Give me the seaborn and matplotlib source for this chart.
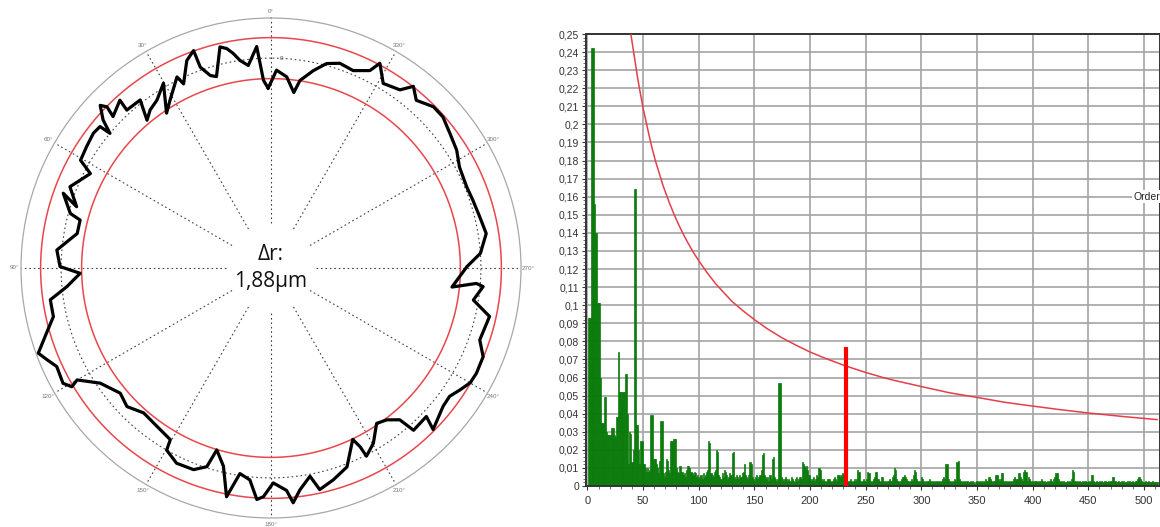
import numpy as np
import matplotlib
matplotlib.use("Agg")
import matplotlib.pyplot as plt
import matplotlib.transforms as mtransforms
from matplotlib.ticker import FuncFormatter, MultipleLocator
import seaborn as sns

# ---------------- data: roundness profile (left) ----------------
profile_angle_deg = [0.9, 2.3, 3.7, 6.4, 8.5, 10.0, 11.4, 13.0, 15.9, 17.5, 19.4, 19.6, 22.1, 25.4,
                     26.2, 31.0, 34.0, 30.2, 34.2, 37.4, 40.0, 37.9, 42.4, 42.0, 46.2, 45.5, 46.4,
                     48.6, 50.1, 50.4, 52.8, 56.6, 60.5, 62.4, 68.0, 72.5, 70.2, 74.8, 75.9, 79.9,
                     85.2, 89.6, 91.6, 95.2, 98.2, 102.6, 106.2, 110.1, 112.3, 114.7, 119.0, 120.8,
                     120.0, 124.0, 129.7, 133.9, 138.7, 145.6, 149.6, 150.2, 154.2, 159.0, 162.1,
                     163.4, 166.5, 169.0, 171.4, 174.3, 176.5, 178.1, 180.6, 184.0, 185.4, 187.4,
                     190.6, 192.4, 196.4, 200.9, 205.5, 206.5, 206.9, 210.3, 214.2, 217.3, 220.3,
                     221.3, 226.3, 225.1, 231.2, 234.3, 237.2, 240.1, 242.9, 247.3, 251.0, 257.5,
                     261.0, 265.0, 265.7, 264.0, 270.4, 274.0, 279.1, 283.8, 288.6, 292.6, 298.2,
                     302.4, 306.9, 311.3, 314.8, 319.1, 321.9, 324.1, 328.7, 332.0, 333.4, 337.4,
                     341.4, 344.8, 347.9, 351.2, 352.6, 355.3, 358.4, 360.9]
profile_dev_um = [-1.38, -1.01, 0.55, -0.28, 0.00, 0.37, 0.64, 0.78, -0.50, -0.37, 0.14, 0.96, 0.64, -0.28,
                  0.14, -0.64, -1.06, 0.18, -0.32, -0.50, -0.78, 0.14, 0.18, 0.73, 0.41, 0.92, 1.19,
                  0.64, 0.00, 0.55, 0.60, 0.50, 0.41, -0.28, 0.32, -0.28, 0.50, -0.09, -0.60, -0.60,
                  0.23, 0.05, -0.87, -0.23, 0.60, 0.60, 1.10, 1.74, 1.47, 1.19, 1.28, 1.01,
                  0.64, -0.18, -0.64, -0.46, -0.78, -0.64, -0.50, 0.00, 0.32, 0.28, -0.05,
                  -0.92, -0.28, 1.06, -0.09, 0.14, 1.01, 0.87, 0.23, 0.60, 1.19, 0.64,
                  0.09, 0.78, 0.50, 0.14, -0.92, -0.46, 0.05, -0.32, -1.01, -0.87, -0.50,
                  0.28, 0.23, 0.87, 0.50, 0.46, 0.69, 0.92, 0.96, 0.92, 0.50, 0.64,
                  -0.23, 0.14, -0.18, -1.28, -0.64, 0.00, 0.37, 0.23, 0.14, 0.09, 0.18,
                  0.46, 0.64, 0.87, 0.87, 0.55, 0.96, 0.46, 0.28, 1.01, 0.50, 0.18,
                  0.28, 0.09, -0.37, -0.92, -1.51, -0.83, -0.55, -1.38]
tolerance_circles_um = [-0.94, 0.94]
delta_r_text = "Δr:\n1,88µm"
angle_labels = ["0°", "30°", "60°", "90°", "120°", "150°", "180°", "210°", "240°", "270°", "300°", "330°"]

# ---------------- data: harmonic spectrum (right) ----------------
orders = np.arange(1, 513)
amp_milli = [
    93, 93, 93, 242, 242, 156, 140, 140, 101, 101,
    101, 60, 35, 35, 49, 49, 30, 28, 28, 28,
    28, 32, 32, 28, 27, 38, 38, 74, 52, 52,
    52, 52, 52, 62, 62, 40, 12, 30, 29, 13,
    20, 164, 164, 34, 34, 20, 12, 25, 25, 12,
    12, 10, 8, 10, 8, 9, 39, 39, 15, 15,
    15, 12, 10, 7, 14, 36, 36, 7, 5, 8,
    15, 14, 9, 7, 25, 25, 26, 26, 26, 10,
    8, 7, 11, 11, 8, 6, 7, 5, 9, 11,
    11, 10, 8, 7, 6, 8, 7, 5, 6, 4,
    5, 6, 4, 7, 5, 6, 8, 9, 25, 24,
    7, 6, 5, 8, 9, 20, 19, 6, 5, 4,
    7, 5, 9, 8, 6, 4, 5, 7, 6, 18,
    19, 5, 4, 6, 5, 4, 6, 5, 7, 8,
    12, 6, 5, 4, 6, 13, 12, 5, 4, 3,
    5, 6, 4, 5, 6, 9, 17, 18, 6, 5,
    4, 5, 3, 6, 4, 15, 16, 5, 4, 3,
    4, 57, 57, 5, 4, 3, 4, 5, 4, 3,
    4, 3, 5, 4, 3, 2, 4, 5, 3, 4,
    5, 4, 13, 12, 11, 10, 11, 9, 6, 4,
    3, 4, 5, 3, 4, 6, 5, 10, 9, 4,
    3, 4, 3, 2, 3, 4, 4, 3, 2, 3,
    4, 5, 4, 3, 6, 6, 5, 6, 7, 6,
    9, 2, 3, 2, 3, 4, 3, 2, 3, 4,
    3, 4, 9, 8, 3, 2, 3, 4, 3, 2,
    4, 8, 7, 3, 2, 3, 4, 5, 8, 8,
    4, 3, 2, 5, 5, 3, 2, 3, 2, 3,
    4, 3, 3, 5, 6, 10, 9, 4, 3, 2,
    3, 4, 5, 5, 6, 5, 4, 3, 2, 3,
    4, 3, 6, 9, 8, 4, 3, 2, 3, 5,
    4, 3, 2, 3, 2, 3, 4, 3, 2, 3,
    2, 3, 2, 3, 2, 3, 2, 3, 4, 5,
    4, 12, 12, 4, 3, 2, 3, 2, 3, 4,
    3, 13, 14, 4, 3, 2, 3, 2, 3, 2,
    3, 2, 2, 3, 2, 3, 2, 1, 2, 3,
    2, 3, 2, 3, 2, 3, 2, 4, 3, 5,
    5, 4, 3, 2, 3, 3, 6, 6, 4, 3,
    4, 7, 7, 3, 2, 3, 2, 3, 2, 3,
    2, 3, 4, 5, 4, 4, 7, 7, 5, 4,
    3, 8, 9, 8, 3, 5, 4, 3, 2, 3,
    2, 3, 3, 2, 3, 2, 3, 4, 3, 2,
    3, 2, 3, 2, 3, 4, 3, 2, 4, 5,
    7, 7, 4, 3, 2, 3, 2, 3, 2, 2,
    3, 2, 3, 2, 4, 9, 8, 3, 2, 3,
    2, 3, 2, 2, 3, 2, 3, 2, 2, 3,
    2, 3, 6, 6, 3, 2, 3, 2, 2, 3,
    2, 3, 2, 2, 3, 2, 2, 3, 2, 3,
    3, 5, 5, 3, 2, 2, 3, 2, 2, 3,
    2, 3, 2, 2, 3, 2, 3, 2, 2, 3,
    2, 3, 3, 4, 5, 5, 4, 3, 2, 2,
    3, 2, 2, 3, 2, 2, 2, 3, 2, 2,
    2, 2]
amplitude = np.array(amp_milli) / 1000.0
red_order = [232]
red_amp = [0.077]
limit_x = [35, 39, 42, 45, 47, 50, 55, 58, 61, 64, 68, 71, 74, 78, 82, 86, 90, 95, 100, 107, 115,
           122, 130, 140, 150, 162, 175, 188, 200, 215, 232, 250, 265, 275, 300, 325, 350, 375,
           400, 425, 450, 480, 512]
limit_y = [0.273, 0.250, 0.238, 0.226, 0.219, 0.209, 0.195, 0.187, 0.180, 0.174, 0.166, 0.161,
           0.156, 0.150, 0.1445, 0.1394, 0.1348, 0.1294, 0.1246, 0.1184, 0.112, 0.1073, 0.102,
           0.0968, 0.092, 0.0868, 0.0819, 0.0777, 0.0741, 0.0703, 0.0664, 0.0628, 0.0601, 0.0585,
           0.0550, 0.0516, 0.0490, 0.0463, 0.0442, 0.0422, 0.0404, 0.0385, 0.0367]
x_ticks = list(range(0, 501, 50))

# ---------------- figure ----------------
sns.set_style("white")
plt.rcParams["font.family"] = ["Liberation Sans", "DejaVu Sans"]

W, H = 1160, 527
fig = plt.figure(figsize=(W / 100, H / 100), dpi=100)

# polar axes: centre (271,268) px, radius 250 px
R_OUT = 1.84
R_CEN = -9.63
axp = fig.add_axes([(271 - 250) / W, (H - 268 - 250) / H, 500 / W, 500 / H], projection="polar")
axp.set_theta_zero_location("N")
axp.set_theta_direction(1)
axp.set_ylim(R_CEN, R_OUT)
axp.grid(False)
axp.set_xticks([])
axp.set_yticks([])
axp.spines["polar"].set_color("#a8a8a8")
axp.spines["polar"].set_linewidth(0.9)

full = np.linspace(0, 2 * np.pi, 721)
for rc in tolerance_circles_um:
    axp.plot(full, np.full_like(full, rc), color="#e8474c", lw=1.1, zorder=2)
axp.plot(full, np.zeros_like(full), color="#444444", lw=0.8, ls=(0, (1.5, 2.5)), zorder=2)

r_spoke0 = R_CEN + 45 / 21.8
for k in range(12):
    th = np.deg2rad(30 * k)
    axp.plot([th, th], [r_spoke0, R_OUT], color="#444444", lw=0.8, ls=(0, (1.5, 2.5)), zorder=1)
    axp.text(th, R_OUT + 7 / 21.8, angle_labels[k], fontsize=4.5, color="#777777",
             ha="center", va="center", clip_on=False)
axp.text(np.deg2rad(-2.5), 0.0, "0", fontsize=4.5, color="#555555", ha="left", va="center")

sns.lineplot(x=np.deg2rad(profile_angle_deg), y=profile_dev_um, sort=False, estimator=None,
             color="black", lw=2.3, ax=axp, zorder=5)
axp.lines[-1].set_solid_joinstyle("round")
axp.set_xlabel("")
axp.set_ylabel("")
axp.text(0.5, 0.5, delta_r_text, transform=axp.transAxes, ha="center", va="center",
         fontsize=15, family=["Open Sans", "DejaVu Sans"], linespacing=1.35, color="#111111", zorder=6)

# spectrum axes
ax = fig.add_axes([586 / W, (H - 486) / H, (W - 586) / W, (486 - 34) / H])
green = "#0a7a0a"
sns.barplot(x=orders, y=amplitude, native_scale=True, width=1.0, color=green, saturation=1,
            errorbar=None, linewidth=0.5, edgecolor=green, ax=ax, zorder=2)
sns.lineplot(x=limit_x, y=limit_y, color="#e2404a", lw=1.1, ax=ax, zorder=3)
ax.vlines(red_order, 0, red_amp, color="#ff0000", lw=3, zorder=4)

ax.set_xlim(-1.3, 514.4)
ax.set_ylim(0, 0.25)
ax.set_xticks(x_ticks)
ax.xaxis.set_minor_locator(MultipleLocator(10))
ax.yaxis.set_major_locator(MultipleLocator(0.01))
ax.yaxis.set_minor_locator(MultipleLocator(0.002))


def fmt(v, pos):
    s = f"{v:.2f}".rstrip("0").rstrip(".")
    return s.replace(".", ",")


ax.yaxis.set_major_formatter(FuncFormatter(fmt))
ax.set_axisbelow(True)
ax.grid(True, which="major", color="#a3a3a3", lw=1.2)
ax.tick_params(axis="both", which="major", labelsize=7.5, length=3, width=0.8, colors="#333333",
               direction="out", pad=2, left=True, bottom=True)
ax.tick_params(axis="both", which="minor", length=2, width=0.6, colors="#555555", direction="out",
               left=True, bottom=True)
ax.tick_params(axis="x", labelsize=8, pad=4)
for side in ["left", "bottom", "top", "right"]:
    ax.spines[side].set_visible(True)
    ax.spines[side].set_color("#333333")
    ax.spines[side].set_linewidth(1.4)
ax.set_xlabel("")
ax.set_ylabel("")

trans = mtransforms.blended_transform_factory(ax.transAxes, ax.transData)
ax.text(1.0, 0.16, "Order", transform=trans, ha="right", va="center", fontsize=7.5, color="#222222",
        bbox=dict(facecolor="white", edgecolor="none", pad=1.0), zorder=6)

fig.savefig("out.png", dpi=100, facecolor="white")
